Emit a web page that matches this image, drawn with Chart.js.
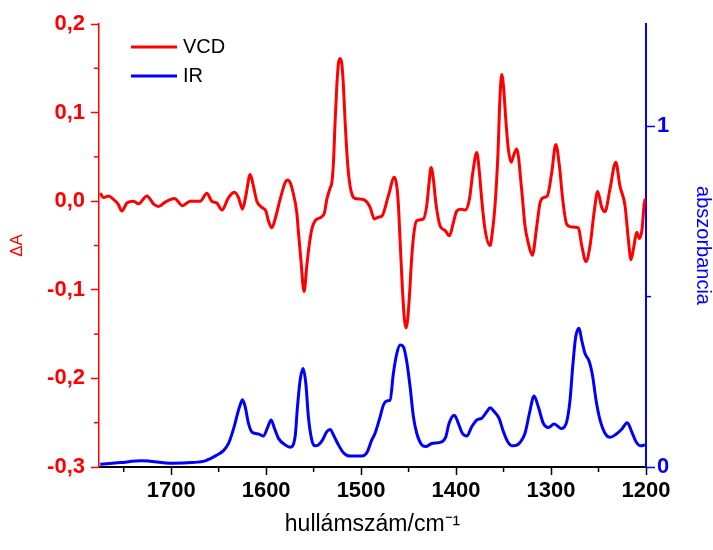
<!DOCTYPE html>
<html>
<head>
<meta charset="utf-8">
<script src="https://cdn.jsdelivr.net/npm/chart.js@4.4.0/dist/chart.umd.min.js"></script>
<style>
  html, body { margin: 0; padding: 0; background: #fff; }
</style>
</head>
<body>
<canvas id="myChart" width="713" height="550"></canvas>
<script>
//******Spektrumok: VCD (ΔA) és IR (abszorbancia)******

var vcdWn = [1774.7, 1771.2, 1765.9, 1760.7, 1756, 1751.9, 1746.6, 1739.7, 1734.4, 1725.6,
  1718.6, 1713.4, 1706.3, 1696.5, 1688.1, 1680, 1669.5, 1662.4, 1657.2, 1651.9,
  1646.6, 1639.6, 1633.3, 1629.1, 1624.9, 1621.4, 1616.8, 1613.4, 1609.8, 1604.5,
  1600.3, 1597.6, 1594, 1590.5, 1585.3, 1580, 1577.2, 1574.7, 1571.7, 1567.7,
  1566, 1563.5, 1560, 1557.2, 1554.7, 1552, 1548.4, 1542.1, 1538.6, 1536.1,
  1532.6, 1530.8, 1529.1, 1527.4, 1525.6, 1523.9, 1522.1, 1520.3, 1518.6, 1516.8,
  1514, 1511.6, 1509, 1506.3, 1497.6, 1494, 1490.5, 1486, 1481.8, 1478.2,
  1471.3, 1465, 1462.4, 1460.7, 1459, 1456.5, 1454.4, 1452.6, 1450.9, 1449.1,
  1446.6, 1443.9, 1441.4, 1434.4, 1430.9, 1428.4, 1426.3, 1423.9, 1421.4, 1416.8,
  1411.6, 1407, 1402.8, 1399.3, 1394.7, 1390.5, 1386, 1382.4, 1378.2, 1375.4,
  1373, 1369.5, 1364.2, 1361.8, 1359, 1356, 1353.7, 1351.9, 1349.8, 1347.7,
  1345, 1342.1, 1339, 1336.1, 1331, 1327.4, 1324, 1319.7, 1315, 1311.6,
  1308, 1303.9, 1299.3, 1295, 1291.2, 1287.7, 1283.5, 1278.2, 1271.2, 1267.7,
  1263.2, 1258.9, 1254.7, 1250.9, 1246.6, 1243.2, 1237.9, 1231.9, 1227.4, 1222.1,
  1218.6, 1215.8, 1212.6, 1209.8, 1207, 1204.2, 1202.1, 1200.7];
var vcdVal = [0.009, 0.004, 0.006, 0.002, -0.003, -0.011, -0.002, 0.000, -0.003, 0.006,
  -0.003, -0.006, -0.001, 0.003, -0.005, 0.000, 0.000, 0.009, 0.000, -0.002,
  -0.010, 0.004, 0.010, 0.004, -0.009, 0.006, 0.030, 0.017, 0.000, -0.007,
  -0.011, -0.022, -0.030, -0.020, 0.002, 0.021, 0.024, 0.021, 0.010, -0.013,
  -0.035, -0.065, -0.102, -0.073, -0.050, -0.032, -0.022, -0.018, -0.013, 0.002,
  0.015, 0.021, 0.044, 0.089, 0.130, 0.155, 0.161, 0.155, 0.130, 0.089,
  0.040, 0.017, 0.006, 0.003, 0.002, -0.001, -0.007, -0.020, -0.018, -0.017,
  0.006, 0.027, 0.017, -0.005, -0.043, -0.099, -0.133, -0.143, -0.133, -0.107,
  -0.062, -0.032, -0.022, -0.020, -0.005, 0.021, 0.038, 0.025, -0.001, -0.028,
  -0.033, -0.039, -0.024, -0.011, -0.009, -0.010, 0.002, 0.032, 0.055, 0.032,
  0.002, -0.032, -0.050, -0.035, -0.005, 0.051, 0.119, 0.143, 0.126, 0.093,
  0.059, 0.044, 0.053, 0.059, 0.014, -0.028, -0.047, -0.061, -0.028, -0.002,
  0.004, 0.006, 0.032, 0.064, 0.040, 0.002, -0.026, -0.029, -0.030, -0.050,
  -0.068, -0.050, -0.013, 0.011, -0.007, -0.012, 0.014, 0.044, 0.017, -0.005,
  -0.043, -0.066, -0.050, -0.035, -0.042, -0.032, -0.005, 0.003];

var irWn = [1774.7, 1753.7, 1730.8, 1699.3, 1678.2, 1664.2, 1651.9, 1644.9, 1639.6, 1633.5,
  1629.1, 1627, 1624.9, 1622.1, 1618.6, 1614.4, 1608.1, 1602.8, 1598.2, 1594.7,
  1591.2, 1587, 1580, 1574.7, 1569.5, 1567, 1564.2, 1561.1, 1558.2, 1555.5,
  1551.9, 1548.4, 1544.9, 1540.7, 1536.1, 1532.6, 1529.1, 1523.9, 1518.6, 1511.6,
  1499.3, 1494, 1488.8, 1485.3, 1480, 1476.5, 1472.9, 1469.5, 1466, 1462.4,
  1458.9, 1455.5, 1451.9, 1448.4, 1444.9, 1441.4, 1436.1, 1431.9, 1425.6, 1415.1,
  1410.8, 1407.4, 1401.8, 1397.6, 1393.4, 1388.7, 1383.5, 1378.2, 1373, 1367.7,
  1364.2, 1359.7, 1354.7, 1350.2, 1345.6, 1340.7, 1336, 1332.6, 1327.4, 1322.8,
  1317.9, 1313.4, 1308.1, 1302.8, 1296.8, 1288.7, 1283.5, 1280, 1277.2, 1274,
  1270.5, 1267.7, 1264.2, 1259.7, 1256.1, 1252.6, 1248.4, 1243.2, 1237.9, 1231.6,
  1225.6, 1219.7, 1215.1, 1210.5, 1205.6, 1201.1];
var irVal = [0.008, 0.013, 0.018, 0.011, 0.013, 0.018, 0.035, 0.048, 0.069, 0.120,
  0.167, 0.185, 0.197, 0.177, 0.128, 0.101, 0.097, 0.091, 0.118, 0.138,
  0.113, 0.084, 0.065, 0.058, 0.089, 0.177, 0.255, 0.289, 0.245, 0.147,
  0.079, 0.062, 0.065, 0.079, 0.104, 0.110, 0.094, 0.065, 0.042, 0.032,
  0.032, 0.042, 0.079, 0.099, 0.147, 0.182, 0.194, 0.196, 0.275, 0.333,
  0.358, 0.353, 0.309, 0.235, 0.147, 0.099, 0.065, 0.060, 0.069, 0.074,
  0.089, 0.128, 0.152, 0.128, 0.099, 0.091, 0.118, 0.138, 0.143, 0.162,
  0.174, 0.162, 0.143, 0.104, 0.074, 0.062, 0.064, 0.072, 0.099, 0.157,
  0.208, 0.177, 0.128, 0.116, 0.126, 0.113, 0.133, 0.196, 0.294, 0.382,
  0.407, 0.372, 0.333, 0.309, 0.265, 0.196, 0.138, 0.099, 0.087, 0.096,
  0.111, 0.130, 0.104, 0.074, 0.062, 0.065];

// tengelyek
var xMin = 1200, xMax = 1776;
var xTicks = [1700, 1600, 1500, 1400, 1300, 1200];
var xMinorTicks = [1750, 1650, 1550, 1450, 1350, 1250];
var yMin = -0.3, yMax = 0.2;
var yMinorTicks = [0.15, 0.05, -0.05, -0.15, -0.25];
var y2Min = 0, y2Max = 1.3;
var y2Ticks = [0, 1];
var y2MinorTicks = [0.5];

var betu = '"Liberation Sans", Arial, sans-serif';

function pontok(wn, val) {
    return wn.map(function(w, i) { return {x: w, y: val[i]}; });
}

/******Kis osztások a tengelyeken******/
var kisOsztas = {
    id: 'kisOsztas',
    afterDraw: function(chart) {
        var c = chart.ctx, a = chart.chartArea;
        var sx = chart.scales.x, sy = chart.scales.y, sy2 = chart.scales.y2;
        c.save();
        c.lineWidth = 1.5;
        c.strokeStyle = '#000';
        xMinorTicks.forEach(function(v) {
            var p = sx.getPixelForValue(v);
            c.beginPath(); c.moveTo(p, a.bottom); c.lineTo(p, a.bottom + 5); c.stroke();
        });
        c.strokeStyle = '#ff0000';
        yMinorTicks.forEach(function(v) {
            var p = sy.getPixelForValue(v);
            c.beginPath(); c.moveTo(a.left, p); c.lineTo(a.left - 5, p); c.stroke();
        });
        c.strokeStyle = '#0000ff';
        y2MinorTicks.forEach(function(v) {
            var p = sy2.getPixelForValue(v);
            c.beginPath(); c.moveTo(a.right, p); c.lineTo(a.right + 5, p); c.stroke();
        });
        c.restore();
    }
};

/******Jelmagyarázat a rajzterületen belül******/
var jelmagyarazat = {
    id: 'jelmagyarazat',
    afterDraw: function(chart) {
        var c = chart.ctx, a = chart.chartArea;
        c.save();
        c.font = '20px ' + betu;
        c.textBaseline = 'middle';
        chart.data.datasets.forEach(function(ds, i) {
            var y = a.top + 23 + i * 29;
            c.strokeStyle = ds.borderColor;
            c.lineWidth = 3;
            c.beginPath(); c.moveTo(a.left + 32, y); c.lineTo(a.left + 78, y); c.stroke();
            c.fillStyle = '#000';
            c.fillText(ds.label, a.left + 84, y);
        });
        c.restore();
    }
};

function vesszo(v) {
    return v.toFixed(1).replace('.', ',');
}

var ctx = document.getElementById('myChart').getContext('2d');
var myChart = new Chart(ctx, {
    type: 'line',
    data: {
        datasets: [{
            label: 'VCD',
            data: pontok(vcdWn, vcdVal),
            borderColor: '#ff0000',
            borderWidth: 3,
            pointRadius: 0,
            cubicInterpolationMode: 'monotone',
            yAxisID: 'y'
        },
        {
            label: 'IR',
            data: pontok(irWn, irVal),
            borderColor: '#0000ff',
            borderWidth: 3,
            pointRadius: 0,
            cubicInterpolationMode: 'monotone',
            yAxisID: 'y2'
        }]
    },
    options: {
        responsive: false,
        animation: false,
        layout: { padding: { top: 24, left: 0, right: 0, bottom: 0 } },
        plugins: {
            legend: { display: false },
            tooltip: { enabled: false }
        },
        scales: {
            x: {
                type: 'linear',
                reverse: true,
                min: xMin,
                max: xMax,
                afterFit: function(s) { s.height = 83; },
                afterBuildTicks: function(s) {
                    s.ticks = xTicks.map(function(v) { return {value: v}; });
                },
                border: { color: '#000', width: 2 },
                grid: { drawOnChartArea: false, tickLength: 8, tickColor: '#000', tickWidth: 1.5 },
                ticks: {
                    padding: 3,
                    color: '#000',
                    maxRotation: 0,
                    autoSkip: false,
                    font: { family: betu, size: 22, weight: 'bold' },
                    callback: function(v) { return String(v); }
                },
                title: {
                    display: true,
                    text: 'hullámszám/cm⁻¹',
                    color: '#000',
                    font: { family: betu, size: 23 },
                    padding: { top: 0, bottom: 12 }
                }
            },
            y: {
                position: 'left',
                min: yMin,
                max: yMax,
                afterFit: function(s) { s.width = 99; },
                border: { color: '#ff0000', width: 1.5 },
                grid: { drawOnChartArea: false, tickLength: 8, tickColor: '#ff0000', tickWidth: 1.5 },
                ticks: {
                    stepSize: 0.1,
                    padding: 6,
                    color: '#ff0000',
                    font: { family: betu, size: 22, weight: 'bold' },
                    callback: function(v) { return vesszo(v); }
                },
                title: {
                    display: true,
                    text: 'ΔA',
                    color: '#ff0000',
                    font: { family: betu, size: 17, lineHeight: 1 },
                    padding: { top: 9, bottom: 0 }
                }
            },
            y2: {
                position: 'right',
                min: y2Min,
                max: y2Max,
                afterFit: function(s) { s.width = 67; },
                afterBuildTicks: function(s) {
                    s.ticks = y2Ticks.map(function(v) { return {value: v}; });
                },
                border: { color: '#0000ff', width: 2 },
                grid: { drawOnChartArea: false, tickLength: 9, tickColor: '#0000ff', tickWidth: 1.5 },
                ticks: {
                    padding: 2,
                    color: '#0000ff',
                    font: { family: betu, size: 22, weight: 'bold' },
                    callback: function(v) { return String(v); }
                },
                title: {
                    display: true,
                    text: 'abszorbancia',
                    color: '#0000ff',
                    font: { family: betu, size: 20, lineHeight: 1 },
                    padding: { top: 0, bottom: 0 }
                }
            }
        }
    },
    plugins: [kisOsztas, jelmagyarazat]
});
</script>
</body>
</html>
